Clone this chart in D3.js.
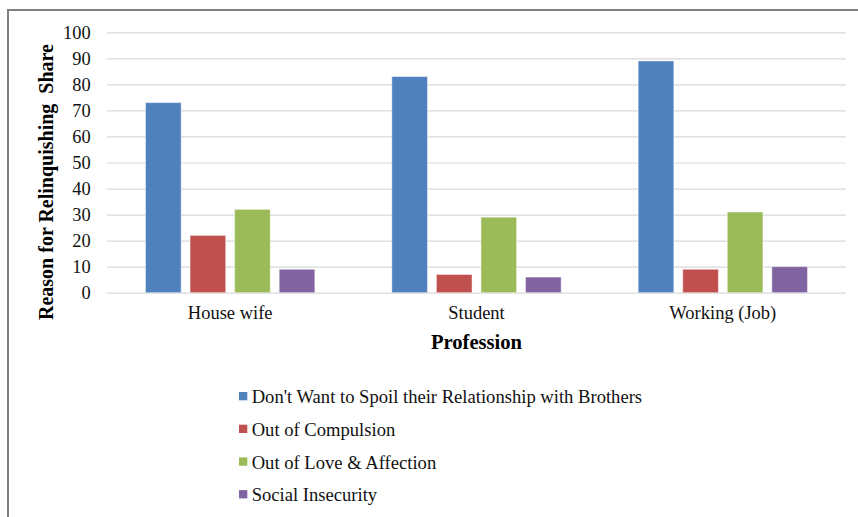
<!DOCTYPE html>
<html>
<head>
<meta charset="utf-8">
<script src="https://cdn.jsdelivr.net/npm/d3@7"></script>
<style>
  html, body { margin: 0; padding: 0; background: #ffffff; }
  svg { display: block; }
</style>
</head>
<body>
<svg id="chart" width="858" height="517"></svg>
<script>
const categories = ["House wife", "Student", "Working (Job)"];
const seriesNames = [
  "Don't Want to Spoil their Relationship with Brothers",
  "Out of Compulsion",
  "Out of Love & Affection",
  "Social Insecurity"
];
const seriesColors = ["#4F81BD", "#C0504D", "#9BBB59", "#8064A2"];
const spoilRelationship = [73, 83, 89];
const compulsion = [22, 7, 9];
const loveAffection = [32, 29, 31];
const socialInsecurity = [9, 6, 10];
const yTicks = [0, 10, 20, 30, 40, 50, 60, 70, 80, 90, 100];
const yTitle = "Reason for Relinquishing  Share";
const xTitle = "Profession";

const seriesValues = [spoilRelationship, compulsion, loveAffection, socialInsecurity];
const FONT = "'Liberation Serif', 'Times New Roman', serif";

const svg = d3.select("#chart");

// Frame
svg.append("line").attr("x1", 7).attr("x2", 858).attr("y1", 10).attr("y2", 10)
  .attr("stroke", "#808080").attr("stroke-width", 2);
svg.append("line").attr("x1", 8).attr("x2", 8).attr("y1", 9).attr("y2", 517)
  .attr("stroke", "#808080").attr("stroke-width", 2);

const plotLeft = 107, plotRight = 846, plotTop = 32.3, plotBottom = 292.7;

const y = d3.scaleLinear().domain([0, 100]).range([plotBottom, plotTop]);
const x0 = d3.scaleBand().domain(categories).range([plotLeft, plotRight])
  .paddingInner(0.3126).paddingOuter(0.1563);
const x1 = d3.scaleBand().domain(seriesNames).range([0, x0.bandwidth()]).paddingInner(0.2);

// Gridlines + tick labels
const yAxis = d3.axisLeft(y).tickValues(yTicks).tickSize(-(plotRight - plotLeft)).tickPadding(16).tickFormat(d3.format("d"));
const gAxis = svg.append("g").attr("transform", `translate(${plotLeft},0)`).call(yAxis);
gAxis.select(".domain").remove();
gAxis.selectAll(".tick line").attr("stroke", "#d9d9d9").attr("stroke-width", 1.2);
gAxis.selectAll(".tick text")
  .style("font-family", FONT).style("font-size", "18.4px").attr("fill", "#111")
  .attr("x", 90.7 - plotLeft).attr("dy", "0.33em");

// Bars
const groups = svg.append("g").selectAll("g").data(categories).join("g")
  .attr("transform", d => `translate(${x0(d)},0)`);
groups.selectAll("rect").data((c, ci) => seriesNames.map((s, si) => ({ s, si, v: seriesValues[si][ci] })))
  .join("rect")
  .attr("x", d => x1(d.s))
  .attr("width", x1.bandwidth())
  .attr("y", d => y(d.v))
  .attr("height", d => y(0) - y(d.v))
  .attr("fill", d => seriesColors[d.si])
  .attr("stroke", "#ffffff").attr("stroke-opacity", 0.45).attr("stroke-width", 1);

// Category labels
svg.append("g").selectAll("text").data(categories).join("text")
  .attr("x", d => x0(d) + x0.bandwidth() / 2)
  .attr("y", 319.3)
  .attr("text-anchor", "middle")
  .style("font-family", FONT).style("font-size", "18.5px").attr("fill", "#111")
  .text(d => d);

// Axis titles
svg.append("text").attr("x", (plotLeft + plotRight) / 2).attr("y", 349.3)
  .attr("text-anchor", "middle")
  .style("font-family", FONT).style("font-size", "20.6px").style("font-weight", "bold")
  .text(xTitle);
svg.append("text").attr("transform", "translate(52.5,182) rotate(-90)")
  .attr("text-anchor", "middle")
  .style("font-family", FONT).style("font-size", "20px").style("font-weight", "bold")
  .style("white-space", "pre")
  .text(yTitle);

// Legend
const legend = svg.append("g").selectAll("g").data(seriesNames).join("g")
  .attr("transform", (d, i) => `translate(239,${403.3 + i * 32.7})`);
legend.append("rect").attr("x", 0).attr("y", -11.3).attr("width", 8.3).attr("height", 8.3)
  .attr("fill", (d, i) => seriesColors[i]);
legend.append("text").attr("x", 12.7).attr("y", 0)
  .style("font-family", FONT).style("font-size", "18.6px").attr("fill", "#111")
  .text(d => d);
</script>
</body>
</html>
